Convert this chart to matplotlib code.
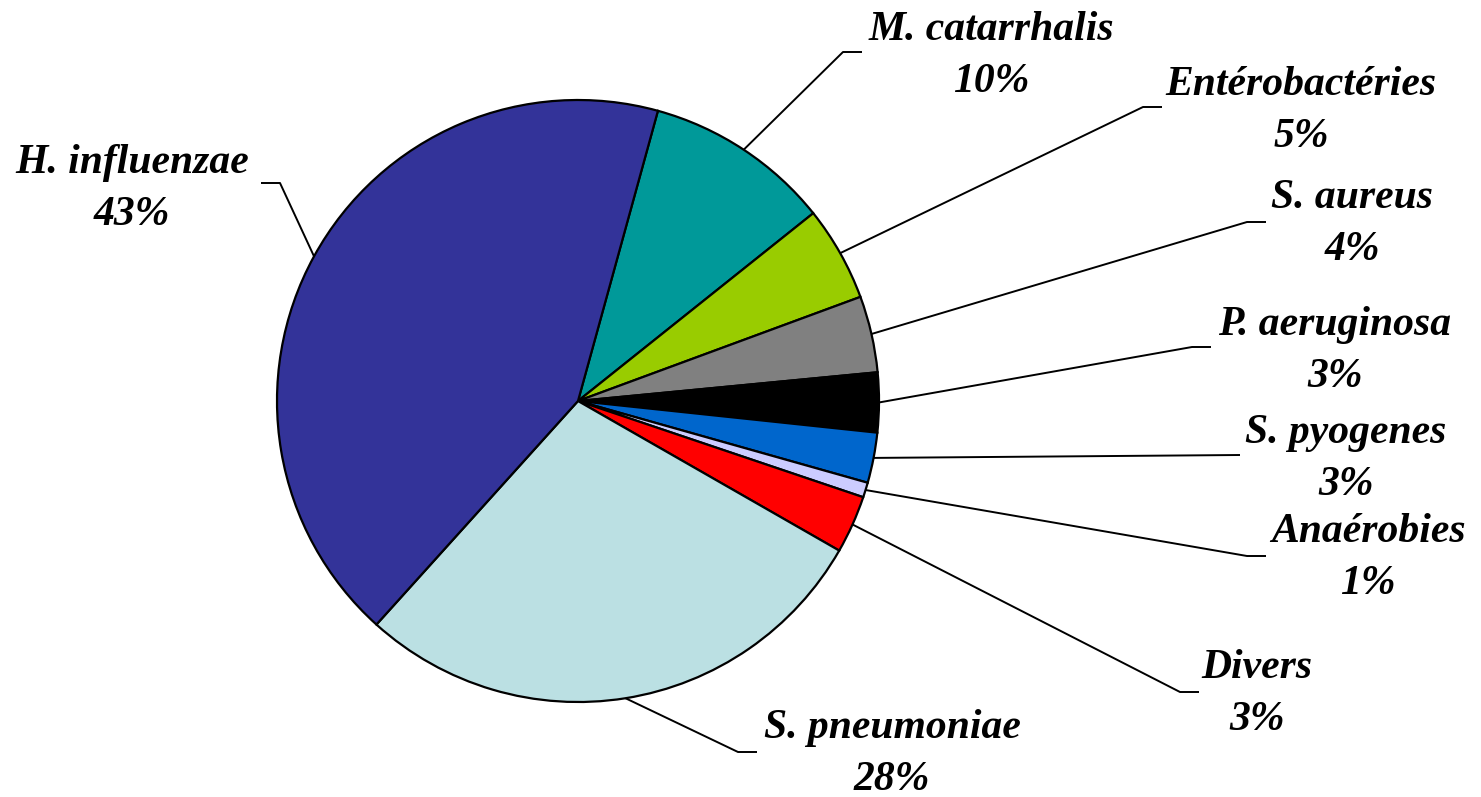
import math

import matplotlib

matplotlib.use("Agg")
import matplotlib.pyplot as plt

# --- Daten (Anteile in %, im Uhrzeigersinn ab M. catarrhalis) ---
labels = [
    "M. catarrhalis",
    "Entérobactéries",
    "S. aureus",
    "P. aeruginosa",
    "S. pyogenes",
    "Anaérobies",
    "Divers",
    "S. pneumoniae",
    "H. influenzae",
]
shares = [10.0, 5.1, 4.1, 3.2, 2.7, 0.8, 3.1, 28.4, 42.6]
colors = [
    "#009999", "#99CC00", "#808080", "#000000", "#0066CC",
    "#CCCCFF", "#FF0000", "#BBE0E3", "#333399",
]

# --- Layout (Pixelkoordinaten des Bildes, y nach unten) ---
W, H = 1481, 797
CENTER = (578, 401)
RADIUS = 301
# Knickpunkt der Führungslinie, Richtung des waagrechten Stücks
elbows = [
    (843, 52, 1), (1143, 107, 1), (1247, 222, 1), (1192, 347, 1),
    (1240, 455, 0), (1247, 556, 1), (1180, 692, 1), (738, 752, 1),
    (280, 183, -1),
]
# Textmitte x, Grundlinie der ersten Zeile
text_pos = [
    (991, 40), (1301, 95), (1352, 208), (1335, 335), (1346, 443),
    (1368, 542), (1257, 678), (892, 738), (132, 173),
]
LINE_GAP = 52
STUB = 19


def px(x, y):
    """Bildpixel -> Datenkoordinaten (y nach oben)."""
    return x, H - y


fig = plt.figure(figsize=(W / 100, H / 100), dpi=100)
ax = fig.add_axes([0, 0, 1, 1])

wedges, _ = ax.pie(
    shares,
    colors=colors,
    startangle=90 - 15.4,
    counterclock=False,
    center=px(*CENTER),
    radius=RADIUS,
    wedgeprops=dict(edgecolor="black", linewidth=1.6),
)

font = dict(family=["Liberation Serif", "DejaVu Serif"], weight="bold",
            style="italic", size=30, color="black")

cx, cy = px(*CENTER)
for wedge, name, share, (ex, ey, d), (tx, ty) in zip(wedges, labels, shares, elbows, text_pos):
    mid = math.radians((wedge.theta1 + wedge.theta2) / 2)
    sx, sy = cx + RADIUS * math.cos(mid), cy + RADIUS * math.sin(mid)
    exd, eyd = px(ex, ey)
    ax.plot([sx, exd, exd + d * STUB], [sy, eyd, eyd], color="black",
            linewidth=1.4, solid_capstyle="butt")
    ax.text(*px(tx, ty), name, ha="center", va="baseline", **font)
    ax.text(*px(tx, ty + LINE_GAP), f"{round(share)}%", ha="center",
            va="baseline", **font)

ax.set_xlim(0, W)
ax.set_ylim(0, H)
ax.set_aspect("equal")
ax.axis("off")

fig.savefig("out.png", dpi=100, facecolor="white")
